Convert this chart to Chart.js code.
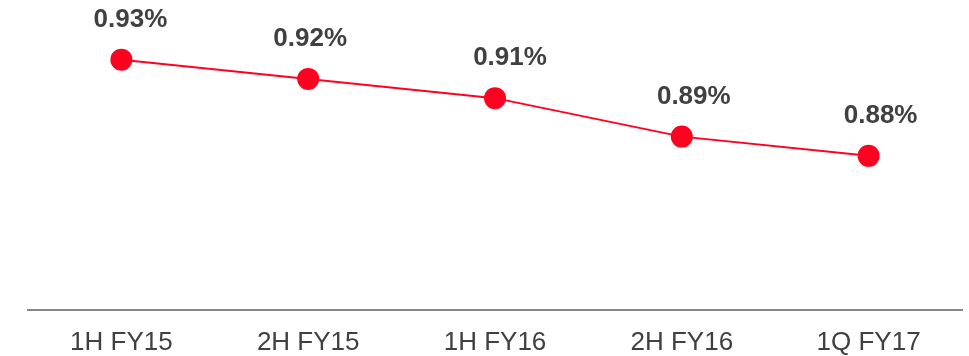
<!DOCTYPE html>
<html>
<head>
<meta charset="utf-8">
<script src="https://cdn.jsdelivr.net/npm/chart.js@4/dist/chart.umd.min.js"></script>
<style>
  html, body { margin: 0; padding: 0; background: #fff; }
  #wrap { width: 969px; height: 356px; }
</style>
</head>
<body>
<div id="wrap"><canvas id="c" width="969" height="356"></canvas></div>
<script>
// Half-year / quarter periods and the ratio (%) for each
const periods = ['1H FY15', '2H FY15', '1H FY16', '2H FY16', '1Q FY17'];
const ratios = [0.93, 0.92, 0.91, 0.89, 0.88];

const RED = '#FF0021';
const TEXT = '#404040';

// Writes each point's value above its marker (with small per-label nudges)
const valueLabels = {
  id: 'valueLabels',
  afterDatasetsDraw(chart, args, opts) {
    const ctx = chart.ctx;
    const meta = chart.getDatasetMeta(0);
    const dx = opts.dx || [];
    ctx.save();
    ctx.font = 'bold 26px "Liberation Sans", Arial, sans-serif';
    ctx.fillStyle = TEXT;
    ctx.textAlign = 'center';
    ctx.textBaseline = 'alphabetic';
    meta.data.forEach((pt, i) => {
      const v = chart.data.datasets[0].data[i];
      ctx.fillText(v.toFixed(2) + '%', pt.x + (dx[i] || 0), pt.y - 33);
    });
    ctx.restore();
  }
};

new Chart(document.getElementById('c'), {
  type: 'line',
  data: {
    labels: periods,
    datasets: [{
      data: ratios,
      borderColor: RED,
      backgroundColor: RED,
      borderWidth: 2,
      pointRadius: 10,
      pointHoverRadius: 10,
      pointBackgroundColor: RED,
      pointBorderColor: RED,
      tension: 0,
      clip: false
    }]
  },
  options: {
    responsive: false,
    animation: false,
    layout: { autoPadding: false, padding: { left: 28, right: 7, top: 0, bottom: -19 } },
    plugins: {
      legend: { display: false },
      tooltip: { enabled: false },
      valueLabels: { dx: [9, 2, 15, 12, 12] }
    },
    scales: {
      x: {
        offset: true,
        grid: { display: false, drawTicks: false },
        border: { display: true, color: '#888888', width: 2 },
        ticks: {
          color: TEXT,
          font: { family: '"Liberation Sans", Arial, sans-serif', size: 26 },
          padding: 17,
          maxRotation: 0
        }
      },
      y: {
        display: false,
        min: 0.80,
        max: 0.961
      }
    }
  },
  plugins: [valueLabels]
});
</script>
</body>
</html>
